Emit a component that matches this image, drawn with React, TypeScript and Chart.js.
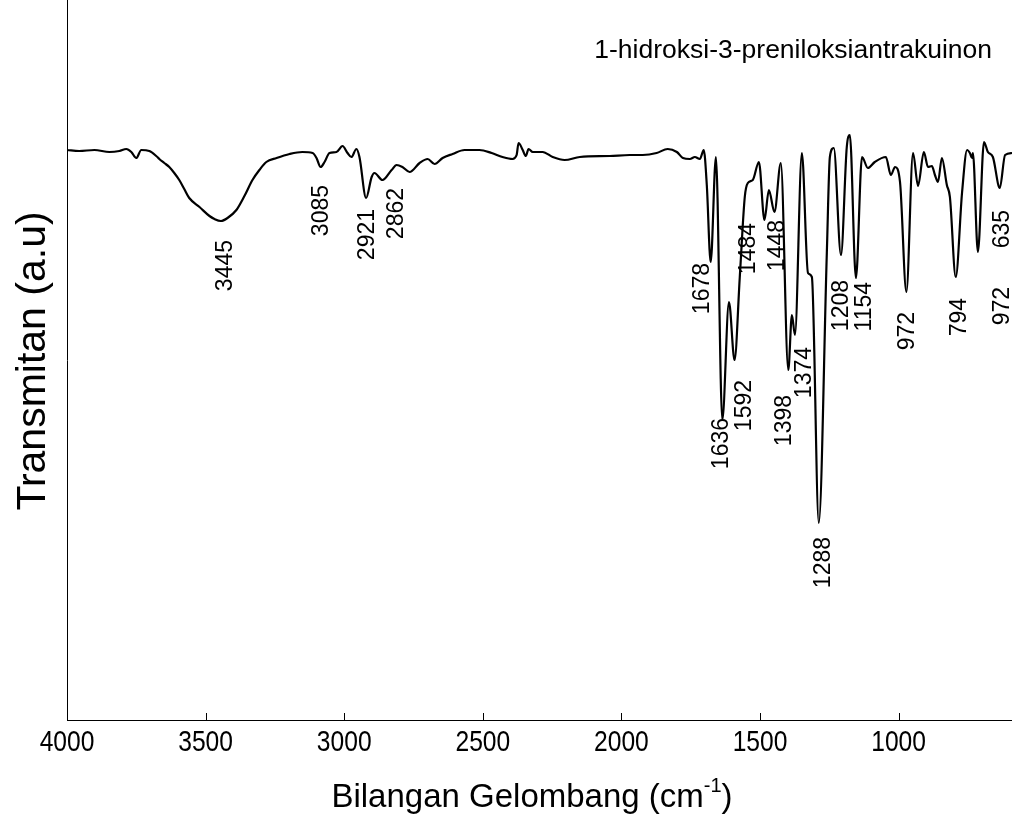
import React, { useEffect, useRef } from "react";
import { Chart, registerables } from "chart.js";

Chart.register(...registerables);

const FONT = "'Liberation Sans', Arial, sans-serif";

// Wavenumber (cm-1) and transmittance (a.u.)
const WAVENUMBERS = [
  4000, 3956, 3901, 3847, 3811, 3786, 3768, 3750, 3732, 3703, 3678, 3667, 3649, 3631, 3613, 3595,
  3577, 3559, 3522, 3486, 3468, 3445, 3421, 3389, 3360, 3331, 3306, 3281, 3244, 3197, 3151, 3114,
  3100, 3085, 3071, 3053, 3028, 3006, 2988, 2974, 2956, 2945, 2921, 2901, 2891, 2862, 2829, 2811,
  2790, 2764, 2728, 2699, 2674, 2645, 2609, 2566, 2512, 2468, 2429, 2393, 2378, 2371, 2356, 2345,
  2335, 2320, 2284, 2248, 2205, 2150, 2042, 1970, 1923, 1873, 1833, 1800, 1778, 1753, 1735, 1717,
  1703, 1692, 1678, 1659, 1636, 1612, 1592, 1573, 1555, 1544, 1526, 1504, 1484, 1468, 1448, 1425,
  1398, 1385, 1374, 1349, 1327, 1313, 1288, 1259, 1248, 1234, 1208, 1187, 1176, 1154, 1132, 1111,
  1086, 1046, 1028, 1013, 995, 972, 948, 930, 909, 894, 880, 869, 858, 844, 826, 815,
  794, 771, 753, 743, 735, 732, 714, 692, 678, 660, 635, 616, 591,
];
const TRANSMITTANCE = [
  570, 569, 570, 568, 569, 571, 568, 562, 570, 569, 564, 561, 557, 553, 547, 540,
  531, 522, 513, 504, 501, 499, 502, 510, 524, 540, 550, 558, 562, 566, 568, 567,
  562, 553, 558, 567, 568, 574, 567, 563, 571, 563, 522, 543, 547, 540, 550, 555,
  553, 548, 557, 561, 556, 562, 566, 570, 570, 567, 563, 561, 565, 577, 570, 564,
  571, 568, 568, 563, 560, 563, 564, 565, 565, 567, 571, 568, 562, 561, 563, 561,
  570, 535, 458, 563, 300, 418, 360, 443, 523, 537, 540, 558, 500, 530, 508, 557,
  350, 405, 385, 567, 447, 443, 197, 467, 563, 572, 465, 573, 585, 442, 563, 552,
  558, 563, 545, 553, 538, 428, 567, 534, 568, 553, 554, 545, 538, 562, 535, 523,
  443, 528, 570, 567, 562, 567, 468, 578, 568, 563, 532, 565, 567,
];

const X_TICKS = [4000, 3500, 3000, 2500, 2000, 1500, 1000];
const X_MIN = 591;
const X_MAX = 4000;
const Y_MIN = 0;
const Y_MAX = 720;

// Peak annotations: text, and the anchor (wavenumber, transmittance) of the label's upper end
const PEAK_LABELS = ["3445", "3085", "2921", "2862", "1678", "1636", "1592", "1484", "1448", "1398", "1374", "1288", "1208", "1154", "972", "794", "635", "972"];
const PEAK_LABEL_WN = [3428, 3082, 2916, 2811, 1706, 1638, 1555, 1541, 1436, 1411, 1338, 1270, 1205, 1122, 966, 779, 624, 624];
const PEAK_LABEL_T = [480, 535, 511, 532, 457, 302, 340, 497, 500, 325, 373, 183, 440, 438, 408, 422, 510, 433];

const SAMPLE_NAME = "1-hidroksi-3-preniloksiantrakuinon";
const X_TITLE = "Bilangan Gelombang (cm";
const X_TITLE_SUP = "-1";
const X_TITLE_END = ")";
const Y_TITLE = "Transmitan (a.u)";

const decorPlugin = {
  id: "decor",
  afterDraw(chart: any) {
    const { ctx, chartArea, scales } = chart;
    const xs = scales.x;
    const ys = scales.y;
    ctx.save();
    // inward tick marks and tick labels
    ctx.strokeStyle = "#000";
    ctx.fillStyle = "#000";
    ctx.lineWidth = 1;
    X_TICKS.forEach((v) => {
      const px = Math.round(xs.getPixelForValue(v)) + 0.5;
      ctx.beginPath();
      ctx.moveTo(px, chartArea.bottom);
      ctx.lineTo(px, chartArea.bottom - 7);
      ctx.stroke();
      ctx.save();
      ctx.translate(xs.getPixelForValue(v), chartArea.bottom + 31);
      ctx.scale(0.82, 1);
      ctx.font = `30px ${FONT}`;
      ctx.textAlign = "center";
      ctx.textBaseline = "alphabetic";
      ctx.fillText(String(v), 0, 0);
      ctx.restore();
    });

    // peak labels
    ctx.font = `23px ${FONT}`;
    PEAK_LABELS.forEach((t, i) => {
      const px = xs.getPixelForValue(PEAK_LABEL_WN[i]);
      const py = ys.getPixelForValue(PEAK_LABEL_T[i]);
      ctx.save();
      ctx.translate(px, py);
      ctx.rotate(-Math.PI / 2);
      ctx.textAlign = "right";
      ctx.textBaseline = "middle";
      ctx.fillText(t, 0, 0);
      ctx.restore();
    });

    // sample name
    ctx.font = `26.5px ${FONT}`;
    ctx.textAlign = "right";
    ctx.textBaseline = "alphabetic";
    ctx.fillText(SAMPLE_NAME, 992, 58);

    // x title with superscript
    const big = `33px ${FONT}`;
    const small = `20px ${FONT}`;
    ctx.font = big;
    const w1 = ctx.measureText(X_TITLE).width;
    const w3 = ctx.measureText(X_TITLE_END).width;
    ctx.font = small;
    const w2 = ctx.measureText(X_TITLE_SUP).width;
    const total = w1 + w2 + w3;
    let x0 = 532 - total / 2;
    const base = 807;
    ctx.textAlign = "left";
    ctx.font = big;
    ctx.fillText(X_TITLE, x0, base);
    x0 += w1;
    ctx.font = small;
    ctx.fillText(X_TITLE_SUP, x0, base - 15);
    x0 += w2;
    ctx.font = big;
    ctx.fillText(X_TITLE_END, x0, base);

    // y title
    ctx.save();
    ctx.translate(45, 361);
    ctx.rotate(-Math.PI / 2);
    ctx.font = `41px ${FONT}`;
    ctx.textAlign = "center";
    ctx.textBaseline = "alphabetic";
    ctx.fillText(Y_TITLE, 0, 0);
    ctx.restore();

    ctx.restore();
  },
};

export default function App() {
  const canvasRef = useRef<HTMLCanvasElement | null>(null);

  useEffect(() => {
    if (!canvasRef.current) return;
    const points = WAVENUMBERS.map((w, i) => ({ x: w, y: TRANSMITTANCE[i] }));
    const chart = new Chart(canvasRef.current, {
      type: "line",
      data: {
        datasets: [
          {
            data: points,
            borderColor: "#000",
            borderWidth: 2.2,
            pointRadius: 0,
            cubicInterpolationMode: "monotone",
            fill: false,
          },
        ],
      },
      options: {
        animation: false,
        responsive: false,
        maintainAspectRatio: false,
        devicePixelRatio: 1,
        layout: { padding: { left: 0, right: 0, top: 0, bottom: 0 } },
        plugins: {
          legend: { display: false },
          tooltip: { enabled: false },
          title: { display: false },
        },
        scales: {
          x: {
            type: "linear",
            reverse: true,
            min: X_MIN,
            max: X_MAX,
            grid: { display: false, drawTicks: false },
            border: { display: true, color: "#000", width: 1 },
            ticks: { display: false },
            afterBuildTicks: (scale: any) => {
              scale.ticks = X_TICKS.map((v) => ({ value: v }));
            },
            afterFit: (scale: any) => {
              scale.height = 94;
            },
          },
          y: {
            type: "linear",
            min: Y_MIN,
            max: Y_MAX,
            grid: { display: false, drawTicks: false },
            border: { display: true, color: "#000", width: 1 },
            ticks: { display: false },
            afterFit: (scale: any) => {
              scale.width = 67;
            },
          },
        },
      },
      plugins: [decorPlugin],
    });
    return () => chart.destroy();
  }, []);

  return (
    <div style={{ position: "absolute", left: 0, top: 0, width: 1012, height: 814, background: "#fff" }}>
      <canvas ref={canvasRef} width={1012} height={814} style={{ display: "block" }} />
    </div>
  );
}
